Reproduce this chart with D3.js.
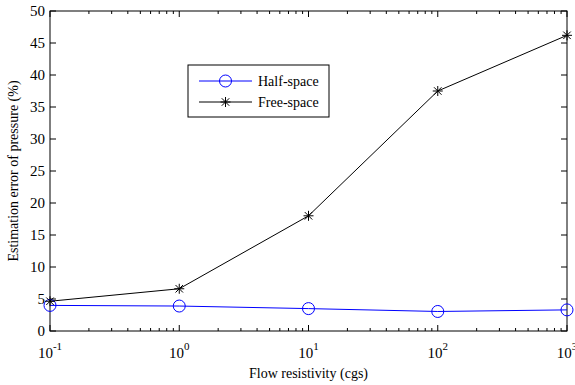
<!DOCTYPE html>
<html>
<head>
<meta charset="utf-8">
<script src="https://cdn.jsdelivr.net/npm/d3@7"></script>
<style>
  body { margin: 0; background: #fff; }
</style>
</head>
<body>
<script>
let resistivity = [0.1, 1, 10, 100, 1000]
let halfSpace = [4.0, 3.9, 3.5, 3.05, 3.3]
let freeSpace = [4.65, 6.6, 18.0, 37.5, 46.2]
let yTicks = [0, 5, 10, 15, 20, 25, 30, 35, 40, 45, 50]
let xTicks = [0.1, 1, 10, 100, 1000]

let w = 575, h = 385
let pLeft = 50, pRight = 567, pTop = 11, pBottom = 331
let font = "'Liberation Serif', 'Times New Roman', Times, serif"

let svg = d3.select("body").append("svg")
  .attr("width", w).attr("height", h)
  .attr("font-family", font)
  .style("font-family", font)

let x = d3.scaleLog().domain([0.1, 1000]).range([pLeft, pRight])
let y = d3.scaleLinear().domain([0, 50]).range([pBottom, pTop])

// minor ticks for log axis
let minors = []
for (let e = -1; e < 3; e++) {
  for (let k = 2; k <= 9; k++) minors.push(k * Math.pow(10, e))
}

let axes = svg.append("g").attr("stroke", "#000").attr("stroke-width", 1)

axes.append("rect")
  .attr("x", pLeft).attr("y", pTop)
  .attr("width", pRight - pLeft).attr("height", pBottom - pTop)
  .attr("fill", "none")

// x ticks, bottom and top, pointing in
xTicks.forEach(v => {
  axes.append("line").attr("x1", x(v)).attr("x2", x(v)).attr("y1", pBottom).attr("y2", pBottom - 6)
  axes.append("line").attr("x1", x(v)).attr("x2", x(v)).attr("y1", pTop).attr("y2", pTop + 6)
})
minors.forEach(v => {
  axes.append("line").attr("x1", x(v)).attr("x2", x(v)).attr("y1", pBottom).attr("y2", pBottom - 3)
  axes.append("line").attr("x1", x(v)).attr("x2", x(v)).attr("y1", pTop).attr("y2", pTop + 3)
})
yTicks.forEach(v => {
  axes.append("line").attr("x1", pLeft).attr("x2", pLeft + 6).attr("y1", y(v)).attr("y2", y(v))
  axes.append("line").attr("x1", pRight).attr("x2", pRight - 6).attr("y1", y(v)).attr("y2", y(v))
})

// y tick labels
svg.append("g").selectAll("text")
  .data(yTicks).enter().append("text")
  .attr("x", pLeft - 5).attr("y", d => y(d) + 5)
  .attr("text-anchor", "end")
  .attr("font-size", 15)
  .text(d => d)

// x tick labels with superscript exponents
xTicks.forEach(v => {
  let t = svg.append("text")
    .attr("x", x(v)).attr("y", pBottom + 27)
    .attr("text-anchor", "middle")
    .attr("font-size", 15)
  t.append("tspan").text("10")
  t.append("tspan").attr("dy", -8).attr("font-size", 11).text(Math.round(Math.log10(v)))
})

svg.append("text")
  .attr("x", (pLeft + pRight) / 2).attr("y", 378)
  .attr("text-anchor", "middle").attr("font-size", 14)
  .text("Flow resistivity (cgs)")

svg.append("text")
  .attr("transform", "translate(18," + ((pTop + pBottom) / 2) + ") rotate(-90)")
  .attr("text-anchor", "middle").attr("font-size", 14)
  .text("Estimation error of pressure (%)")

let line = d3.line()
  .x(d => x(d[0]))
  .y(d => y(d[1]))

let halfPts = resistivity.map((r, i) => [r, halfSpace[i]])
let freePts = resistivity.map((r, i) => [r, freeSpace[i]])

svg.append("path").datum(halfPts)
  .attr("d", line).attr("fill", "none").attr("stroke", "#0000ff").attr("stroke-width", 1)
svg.append("path").datum(freePts)
  .attr("d", line).attr("fill", "none").attr("stroke", "#000").attr("stroke-width", 1)

let drawStar = (g, cx, cy, r) => {
  let s = g.append("g").attr("stroke", "#000").attr("stroke-width", 1)
  s.append("line").attr("x1", cx - r).attr("x2", cx + r).attr("y1", cy).attr("y2", cy)
  s.append("line").attr("x1", cx).attr("x2", cx).attr("y1", cy - r).attr("y2", cy + r)
  let d = r * 0.75
  s.append("line").attr("x1", cx - d).attr("x2", cx + d).attr("y1", cy - d).attr("y2", cy + d)
  s.append("line").attr("x1", cx - d).attr("x2", cx + d).attr("y1", cy + d).attr("y2", cy - d)
}

svg.append("g").selectAll("circle")
  .data(halfPts).enter().append("circle")
  .attr("cx", d => x(d[0])).attr("cy", d => y(d[1]))
  .attr("r", 6).attr("fill", "none").attr("stroke", "#0000ff")

let stars = svg.append("g")
freePts.forEach(d => drawStar(stars, x(d[0]), y(d[1]), 5))

// legend
let legend = svg.append("g").attr("id", "legend")
legend.append("rect")
  .attr("x", 188).attr("y", 65).attr("width", 141).attr("height", 52)
  .attr("fill", "#fff").attr("stroke", "#000")
legend.append("line").attr("x1", 199).attr("x2", 252).attr("y1", 81).attr("y2", 81).attr("stroke", "#0000ff")
legend.append("circle").attr("cx", 225.5).attr("cy", 81).attr("r", 6).attr("fill", "none").attr("stroke", "#0000ff")
legend.append("text").attr("x", 258).attr("y", 86).attr("font-size", 14).text("Half-space")
legend.append("line").attr("x1", 199).attr("x2", 252).attr("y1", 102).attr("y2", 102).attr("stroke", "#000")
drawStar(legend, 225.5, 102, 5)
legend.append("text").attr("x", 258).attr("y", 107).attr("font-size", 14).text("Free-space")
</script>
</body>
</html>
